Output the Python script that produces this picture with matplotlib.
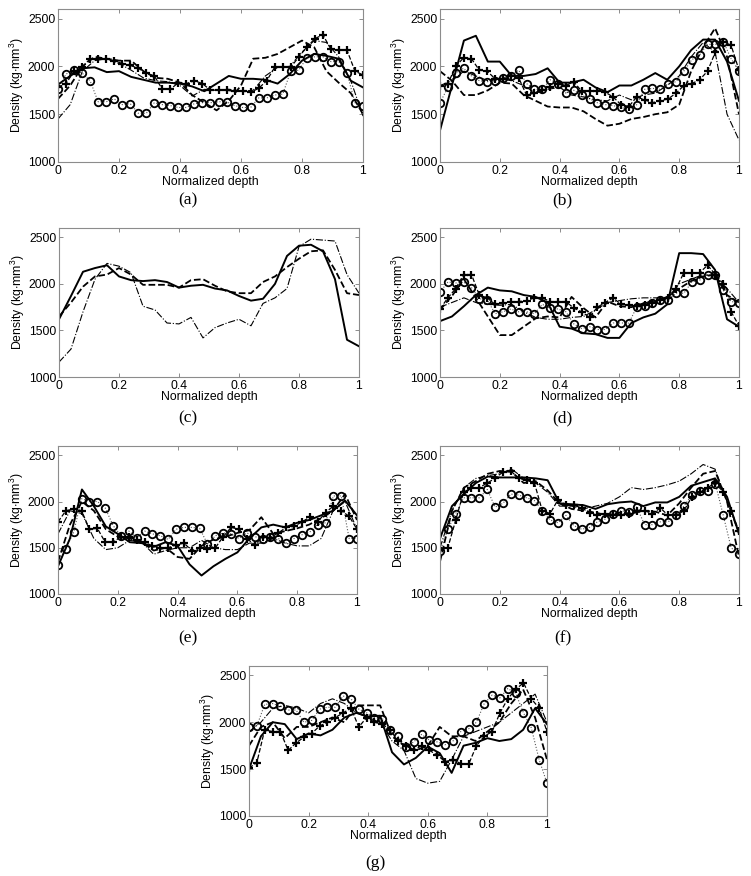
import numpy as np
import matplotlib
matplotlib.use("Agg")
import matplotlib.pyplot as plt

plt.rcParams['font.family'] = ['Liberation Sans', 'DejaVu Sans']
plt.rcParams['mathtext.fontset'] = 'custom'
plt.rcParams['mathtext.rm'] = 'Liberation Sans'
plt.rcParams['mathtext.default'] = 'regular'

# depth grids (lines sampled every 0.04, marker series every 1/38)
depth_line = np.linspace(0, 1, 26)
depth_mark = np.linspace(0, 1, 39)

# ---- panel (a)
a_solid = [1810, 1900, 1980, 1990, 1940, 1950, 1890, 1860, 1830, 1830, 1820, 1790, 1740,
           1820, 1900, 1870, 1870, 1860, 1820, 1920, 2060, 2130, 2110, 2080, 1850, 1780]
a_dashed = [1660, 1800, 2000, 2100, 2080, 2060, 2060, 1950, 1880, 1870, 1830, 1700, 1620,
            1540, 1640, 1800, 2080, 2090, 2130, 2200, 2270, 2200, 1950, 1830, 1720, 1500]
a_dashdot = [1450, 1600, 1950, 2060, 2080, 2030, 1960, 1880, 1850, 1840, 1800, 1690, 1760,
             1750, 1760, 1740, 1750, 1900, 1990, 2000, 2150, 2270, 2250, 2100, 1850, 1480]
a_plus = [1780, 1820, 1950, 1990, 2080, 2080, 2080, 2060, 2030, 2010, 1980, 1930, 1900,
          1760, 1760, 1830, 1820, 1850, 1820, 1750, 1750, 1750, 1740, 1740, 1730, 1770,
          1850, 1990, 1990, 1990, 2100, 2200, 2290, 2330, 2180, 2170, 2170, 1950, 1910]
a_circle = [1760, 1920, 1960, 1930, 1850, 1630, 1630, 1660, 1600, 1610, 1510, 1510, 1620,
            1600, 1590, 1570, 1570, 1610, 1620, 1620, 1630, 1630, 1590, 1570, 1570, 1670,
            1670, 1700, 1710, 1950, 1960, 2090, 2100, 2100, 2050, 2050, 1930, 1620, 1590]

# ---- panel (b)
b_solid = [1330, 1800, 2270, 2320, 2050, 2050, 1900, 1900, 1920, 1980, 1830, 1830, 1860,
           1780, 1730, 1800, 1800, 1860, 1930, 1860, 2000, 2170, 2280, 2280, 2050, 1640]
b_dashed = [1950, 1850, 1700, 1700, 1750, 1830, 1820, 1700, 1640, 1580, 1570, 1570, 1530,
            1450, 1380, 1400, 1450, 1470, 1500, 1520, 1600, 1950, 2200, 2400, 2100, 1500]
b_dashdot = [1800, 1850, 1950, 1900, 1850, 1870, 1850, 1800, 1720, 1760, 1780, 1700, 1680,
             1650, 1640, 1700, 1650, 1700, 1720, 1800, 1900, 2100, 2250, 2150, 1500, 1230]
b_plus = [1790, 1820, 2000, 2090, 2080, 1960, 1950, 1870, 1870, 1900, 1880, 1700, 1720,
          1750, 1780, 1820, 1800, 1840, 1740, 1740, 1740, 1730, 1680, 1600, 1580, 1680,
          1650, 1620, 1640, 1660, 1720, 1800, 1820, 1860, 1950, 2150, 2260, 2220, 1960]
b_circle = [1620, 1780, 1930, 1980, 1900, 1850, 1840, 1850, 1880, 1900, 1960, 1820, 1760,
            1760, 1860, 1820, 1720, 1750, 1700, 1660, 1620, 1600, 1590, 1570, 1550, 1600,
            1760, 1770, 1760, 1820, 1840, 1950, 2070, 2120, 2230, 2230, 2260, 2080, 1950]

# ---- panel (c)
c_solid = [1620, 1870, 2130, 2170, 2200, 2080, 2040, 2030, 2040, 2020, 1960, 1980, 1990,
           1950, 1930, 1870, 1820, 1840, 2000, 2300, 2410, 2420, 2350, 2050, 1400, 1330]
c_dashed = [1650, 1800, 1970, 2080, 2100, 2170, 2100, 1990, 1990, 1990, 1960, 2040, 2050,
            1980, 1920, 1900, 1900, 2020, 2080, 2180, 2270, 2350, 2360, 2150, 1900, 1880]
c_dashdot = [1160, 1300, 1700, 2050, 2220, 2190, 2120, 1760, 1720, 1580, 1570, 1640, 1420,
             1530, 1580, 1620, 1550, 1790, 1850, 1950, 2400, 2480, 2470, 2460, 2100, 1900]

# ---- panel (d)
d_solid = [1600, 1650, 1760, 1880, 1960, 1930, 1920, 1880, 1860, 1800, 1540, 1520, 1470,
           1460, 1420, 1420, 1580, 1640, 1680, 1780, 2330, 2330, 2320, 2150, 1620, 1540]
d_dashed = [1720, 1870, 2050, 1850, 1650, 1450, 1450, 1540, 1630, 1650, 1640, 1860, 1740,
            1640, 1810, 1760, 1750, 1790, 1820, 1860, 1950, 2030, 2080, 2100, 1880, 1800]
d_dashdot = [1750, 1800, 1850, 1800, 1780, 1770, 1780, 1700, 1640, 1620, 1620, 1640, 1650,
             1720, 1800, 1820, 1840, 1850, 1850, 1850, 2000, 2050, 2100, 2080, 1950, 1800]
d_plus = [1730, 1850, 1950, 2100, 2100, 1880, 1850, 1780, 1790, 1810, 1810, 1820, 1850,
          1850, 1810, 1810, 1810, 1740, 1700, 1640, 1750, 1800, 1850, 1780, 1770, 1760,
          1770, 1800, 1830, 1850, 1950, 2120, 2120, 2120, 2200, 2100, 2000, 1700, 1550]
d_circle = [1910, 2020, 2010, 2020, 1960, 1840, 1830, 1680, 1700, 1730, 1700, 1700, 1680,
            1780, 1740, 1730, 1700, 1570, 1520, 1540, 1510, 1510, 1580, 1580, 1580, 1750,
            1760, 1800, 1830, 1830, 1900, 1900, 2020, 2040, 2100, 2100, 1930, 1810, 1800]

# ---- panel (e)
e_solid = [1300, 1600, 2130, 1950, 1730, 1650, 1560, 1550, 1510, 1560, 1520, 1320, 1200,
           1300, 1380, 1450, 1600, 1720, 1750, 1720, 1770, 1800, 1850, 1900, 2010, 1850]
e_dashed = [1350, 1750, 2000, 1900, 1700, 1620, 1600, 1560, 1470, 1500, 1400, 1380, 1520,
            1590, 1620, 1660, 1690, 1830, 1650, 1680, 1710, 1750, 1820, 1900, 2080, 1800]
e_dashdot = [1650, 1900, 1870, 1600, 1480, 1500, 1580, 1560, 1430, 1470, 1500, 1500, 1580,
             1500, 1480, 1480, 1550, 1550, 1600, 1550, 1520, 1520, 1600, 1900, 2000, 1700]
e_plus = [1780, 1900, 1920, 1900, 1700, 1710, 1560, 1560, 1620, 1620, 1580, 1560, 1520,
          1500, 1500, 1530, 1550, 1470, 1500, 1490, 1500, 1620, 1720, 1700, 1600, 1530,
          1620, 1610, 1660, 1720, 1730, 1780, 1830, 1780, 1880, 1950, 1900, 1840, 1700]
e_circle = [1310, 1490, 1670, 2030, 2000, 2000, 1930, 1740, 1630, 1680, 1610, 1680, 1650,
            1630, 1590, 1700, 1720, 1720, 1710, 1540, 1630, 1660, 1650, 1600, 1660, 1620,
            1600, 1620, 1600, 1550, 1600, 1640, 1670, 1750, 1770, 2060, 2060, 1600, 1600]

# ---- panel (f)
f_solid = [1600, 1950, 2080, 2200, 2270, 2260, 2260, 2260, 2250, 2230, 1980, 1970, 1960,
           1920, 1970, 1990, 2000, 1950, 1990, 1990, 2050, 2170, 2210, 2250, 2050, 1650]
f_dashed = [1350, 1900, 2150, 2220, 2300, 2330, 2320, 2200, 2220, 2120, 1980, 1920, 1900,
            1880, 1850, 1880, 1870, 1900, 1890, 1850, 1980, 2150, 2300, 2330, 2000, 1400]
f_dashdot = [1500, 1900, 2150, 2250, 2280, 2300, 2350, 2250, 2200, 2100, 1950, 1950, 1920,
             1950, 1980, 2050, 2150, 2130, 2150, 2180, 2220, 2300, 2400, 2350, 2000, 1650]
f_plus = [1480, 1500, 1800, 2100, 2150, 2150, 2200, 2250, 2320, 2330, 2250, 2230, 2200,
          1900, 1870, 2020, 1960, 1960, 1930, 1880, 1850, 1870, 1850, 1850, 1870, 1900,
          1900, 1870, 1930, 1850, 1850, 1900, 2050, 2100, 2150, 2200, 2100, 1900, 1680]
f_circle = [1460, 1700, 1870, 2040, 2040, 2040, 2130, 1940, 1980, 2080, 2070, 2040, 2010,
            1900, 1800, 1770, 1850, 1740, 1700, 1720, 1780, 1810, 1860, 1900, 1890, 1940,
            1750, 1750, 1780, 1780, 1850, 1950, 2070, 2110, 2110, 2190, 1850, 1500, 1430]

# ---- panel (g)
g_solid = [1500, 1850, 2000, 1980, 1820, 1880, 1860, 1920, 2050, 2100, 2060, 2070, 1680,
           1550, 1620, 1740, 1670, 1460, 1750, 1780, 1830, 1800, 1820, 1920, 2150, 1980]
g_dashed = [1750, 1950, 2000, 1830, 1950, 1950, 2000, 2050, 2000, 2180, 2180, 2180, 1850,
            1750, 1700, 1750, 1950, 1850, 1850, 1800, 1900, 2000, 2200, 2350, 2050, 1600]
g_dashdot = [1900, 2000, 2150, 2180, 2150, 2100, 2200, 2250, 2200, 2100, 2050, 2000, 1800,
             1700, 1400, 1350, 1370, 1600, 1850, 1900, 1950, 2000, 2100, 2200, 2300, 2000]
g_plus = [1510, 1570, 1920, 1900, 1900, 1700, 1780, 1840, 1880, 1960, 2000, 2050, 2100,
          2150, 1950, 2050, 2000, 1980, 1920, 1800, 1750, 1700, 1750, 1700, 1650, 1580,
          1600, 1560, 1550, 1750, 1850, 1900, 2100, 2250, 2350, 2420, 2250, 2150, 1900]
g_circle = [1950, 1960, 2190, 2200, 2170, 2130, 2130, 2000, 2020, 2140, 2160, 2160, 2280,
            2250, 2140, 2100, 2050, 2040, 1920, 1850, 1740, 1790, 1870, 1810, 1790, 1760,
            1800, 1900, 1930, 2000, 2200, 2290, 2260, 2360, 2310, 2100, 1940, 1600, 1350]

panel_labels = ['(a)', '(b)', '(c)', '(d)', '(e)', '(f)', '(g)']
x_ticks = [0, 0.2, 0.4, 0.6, 0.8, 1]
x_ticklabels = ['0', '0.2', '0.4', '0.6', '0.8', '1']
y_ticks = [1000, 1500, 2000, 2500]

W, H = 751, 876
fig = plt.figure(figsize=(W / 100, H / 100), dpi=100)

# pixel boxes: left, top, width, height ; label centre x, y
layout = [
    (58, 9, 305, 153, 187.5, 200),
    (440, 9, 299, 153, 562.5, 200),
    (59, 228, 300, 149, 187.5, 418),
    (440, 228, 299, 149, 562.5, 418),
    (58, 446, 299, 148, 187.5, 638),
    (440, 446, 299, 148, 562.5, 638),
    (249, 666, 298, 150, 375, 863),
]

panels = [
    (a_solid, a_dashed, a_dashdot, a_plus, a_circle),
    (b_solid, b_dashed, b_dashdot, b_plus, b_circle),
    (c_solid, c_dashed, c_dashdot, None, None),
    (d_solid, d_dashed, d_dashdot, d_plus, d_circle),
    (e_solid, e_dashed, e_dashdot, e_plus, e_circle),
    (f_solid, f_dashed, f_dashdot, f_plus, f_circle),
    (g_solid, g_dashed, g_dashdot, g_plus, g_circle),
]

axis_grey = '#8c8c8c'

for (l, t, w, h, lx, ly), (solid, dashed, dashdot, plus, circle), lab in zip(layout, panels, panel_labels):
    ax = fig.add_axes([l / W, 1 - (t + h) / H, w / W, h / H])

    if circle is not None:
        ax.plot(depth_mark, circle, linestyle=':', color='0.35', lw=0.8,
                marker='o', ms=5.4, mfc='none', mec='k', mew=1.3)
    if plus is not None:
        ax.plot(depth_mark, plus, linestyle='--', color='k', lw=0.9,
                marker='+', ms=5.5, mew=1.6)
    ax.plot(depth_line, dashdot, linestyle='-.', color='k', lw=0.8)
    ax.plot(depth_line, dashed, linestyle='--', color='k', lw=1.3)
    ax.plot(depth_line, solid, linestyle='-', color='k', lw=1.4)

    ax.set_xlim(0, 1)
    ax.set_ylim(1000, 2600)
    ax.set_xticks(x_ticks)
    ax.set_xticklabels(x_ticklabels)
    ax.set_yticks(y_ticks)
    ax.tick_params(direction='in', length=3, width=0.7, color=axis_grey,
                   labelsize=8.8, pad=2, top=True, right=True)
    for sp in ax.spines.values():
        sp.set_color(axis_grey)
        sp.set_linewidth(0.8)

    ax.set_xlabel('Normalized depth', fontsize=8.8)
    ax.xaxis.set_label_coords(0.5, -14 / h)
    ax.set_ylabel('Density (kg$\\cdot$mm$^3$)', fontsize=8.8)
    ax.yaxis.set_label_coords(-32 / w, 0.5)

    fig.text(lx / W, 1 - ly / H, lab, family='Liberation Serif', fontsize=12.5,
             ha='center', va='center')

fig.savefig('out.png', dpi=100)
